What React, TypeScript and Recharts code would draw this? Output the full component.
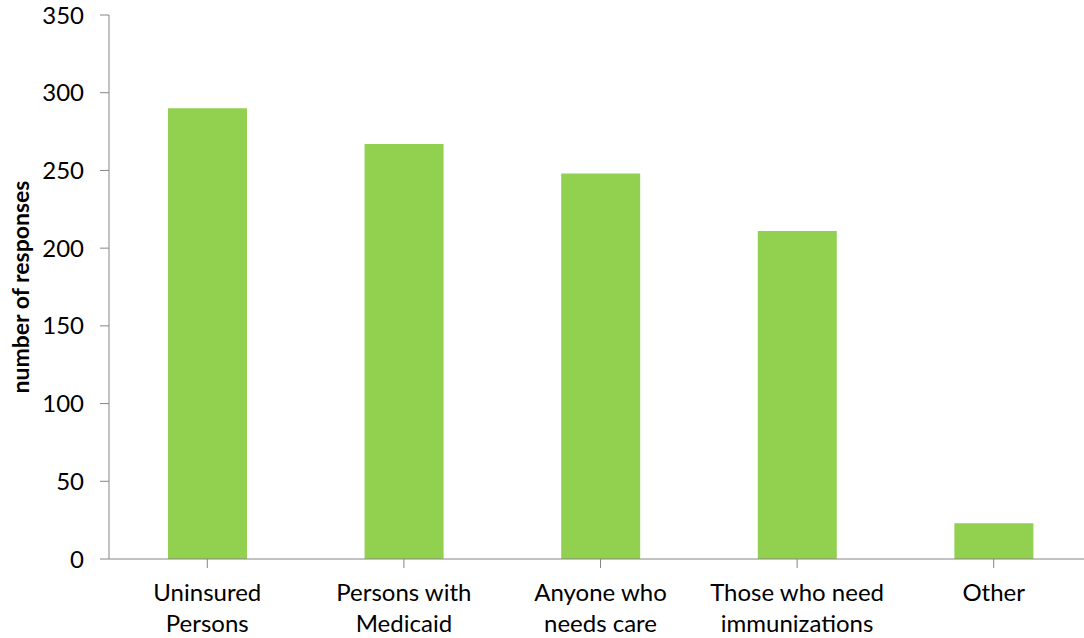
import React from "react";
import { BarChart, Bar, XAxis, YAxis, Label } from "recharts";

// Target groups and the number of responses for each
const categories = [
  "Uninsured\nPersons",
  "Persons with\nMedicaid",
  "Anyone who\nneeds care",
  "Those who need\nimmunizations",
  "Other",
];
const responses = [290, 267, 248, 211, 23];
const yTicks = [0, 50, 100, 150, 200, 250, 300, 350];

const data = categories.map((name, i) => ({ name, value: responses[i] }));

const FONT = "Lato, 'Open Sans', sans-serif";
const AXIS_COLOR = "#868686";
const BAR_COLOR = "#92D050";

const CategoryTick = (props: any) => {
  const { x, y, payload } = props;
  const lines = String(payload.value).split("\n");
  return (
    <text
      x={x}
      y={y}
      textAnchor="middle"
      fill="#000"
      fontFamily={FONT}
      fontSize={24}
    >
      {lines.map((line, i) => (
        <tspan key={i} x={x} dy={31}>
          {line}
        </tspan>
      ))}
    </text>
  );
};

const AxisTitle = (props: any) => {
  const vb = props.viewBox || {};
  const cx = 20;
  const cy = vb.y + vb.height / 2;
  return (
    <text
      x={cx}
      y={cy}
      transform={`rotate(-90, ${cx}, ${cy})`}
      textAnchor="middle"
      dominantBaseline="central"
      fontFamily={FONT}
      fontWeight="bold"
      fontSize={23}
      fill="#000"
    >
      number of responses
    </text>
  );
};

export default function App() {
  return (
    <div
      style={{
        position: "absolute",
        left: 0,
        top: 0,
        width: 1084,
        height: 638,
        overflow: "hidden",
        background: "#fff",
      }}
    >
      <BarChart
        width={1100}
        height={638}
        data={data}
        margin={{ top: 15, right: 8, bottom: 0, left: 0 }}
        barCategoryGap="30%"
      >
        <XAxis
          dataKey="name"
          height={79}
          interval={0}
          stroke={AXIS_COLOR}
          tickLine={{ stroke: AXIS_COLOR }}
          tickSize={9}
          tick={<CategoryTick />}
        />
        <YAxis
          width={109}
          domain={[0, 350]}
          ticks={yTicks}
          interval={0}
          stroke={AXIS_COLOR}
          tickLine={{ stroke: AXIS_COLOR }}
          tickSize={9}
          tickMargin={16}
          tick={{ fill: "#000", fontFamily: FONT, fontSize: 24 }}
        >
          <Label content={<AxisTitle />} />
        </YAxis>
        <Bar dataKey="value" fill={BAR_COLOR} isAnimationActive={false} />
      </BarChart>
    </div>
  );
}
